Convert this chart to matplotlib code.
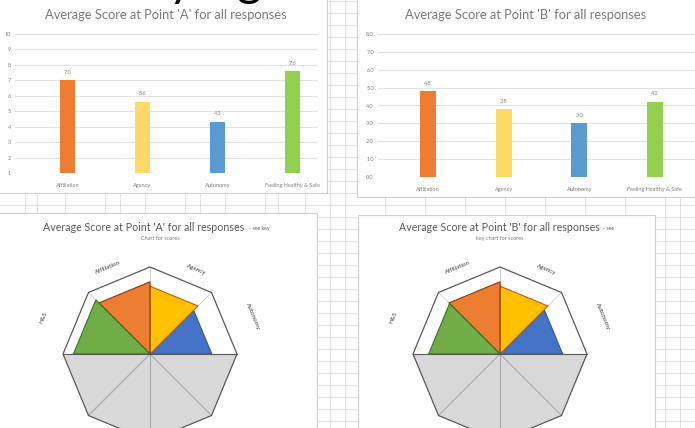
import matplotlib
matplotlib.use("Agg")
import matplotlib.pyplot as plt
import numpy as np
from matplotlib.patches import Polygon, Rectangle

plt.rcParams['font.family'] = ['Lato', 'DejaVu Sans']

# ---------------- data ----------------
categories = ["Affiliation", "Agency", "Autonomy", "Feeling Healthy & Safe"]
scores_a = [7.0, 5.6, 4.3, 7.6]
scores_b = [4.8, 3.8, 3.0, 4.2]
yticks_a = [1, 2, 3, 4, 5, 6, 7, 8, 9, 10]
yticks_b = [0, 1, 2, 3, 4, 5, 6, 7, 8]
ytick_labels_b = ["0.0", "1.0", "2.0", "3.0", "4.0", "5.0", "6.0", "7.0", "8.0"]
bar_colors = ["#ED7D31", "#FFD966", "#5B9BD5", "#92D050"]

radar_labels = ["Autonomy", "Agency", "Affiliation", "H&S"]
radar_a = [7.1, 7.8, 8.3, 8.8]
radar_b = [7.2, 7.8, 8.3, 8.2]
radar_max = 10
radar_colors = ["#4472C4", "#FFC000", "#ED7D31", "#70AD47"]
radar_edges = ["#2F5597", "#C55A11", "#843C0C", "#3B6E22"]

title_a = "Average Score at Point 'A' for all responses"
title_b = "Average Score at Point 'B' for all responses"
heading = "Survey Agreement Scores"

# ---------------- layout helpers ----------------
W, H = 695, 428
fig = plt.figure(figsize=(W / 100, H / 100), dpi=100)


def fr(x0, y0, x1, y1):
    return [x0 / W, 1 - y1 / H, (x1 - x0) / W, (y1 - y0) / H]


bg = fig.add_axes([0, 0, 1, 1])
bg.set_xlim(0, W)
bg.set_ylim(H, 0)
bg.axis('off')

# spreadsheet grid
for y in np.arange(1, H, 12):
    bg.plot([0, W], [y, y], color='#dedede', lw=0.6, zorder=1)
for x in [25, 37, 65, 105, 120, 145, 185, 200, 225, 265, 278, 305, 330, 345,
          385, 425, 465, 505, 545, 585, 625, 665, 680]:
    bg.plot([x, x], [0, H], color='#dedede', lw=0.6, zorder=1)

# chart boxes
for (x0, y0, w, h) in [(-2, -2, 329, 195), (357, -2, 345, 199),
                       (-2, 213, 319, 220), (358, 215, 297, 220)]:
    bg.add_patch(Rectangle((x0, y0), w, h, facecolor='white',
                           edgecolor='#d0d0d0', lw=0.8, zorder=2))

# big heading, cut off at the top (only descenders visible)
bg.text(50, -4, heading, fontsize=34, va='baseline', ha='left',
        color='black', zorder=3)

# titles
bg.text(166, 15, title_a, fontsize=9.3, color='#7a7a7a', ha='center',
        va='center', zorder=3)
bg.text(526, 15, title_b, fontsize=9.3, color='#7a7a7a', ha='center',
        va='center', zorder=3)

bg.text(144, 227, title_a, fontsize=7.7, color='#595959', ha='center',
        va='center', zorder=3)
bg.text(249, 228, "- see key", fontsize=3.8, color='#595959', ha='left',
        va='center', zorder=3)
bg.text(160, 238, "Chart for scores", fontsize=4, color='#7f7f7f',
        ha='center', va='center', zorder=3)

bg.text(499, 227, title_b, fontsize=7.7, color='#595959', ha='center',
        va='center', zorder=3)
bg.text(603, 228, "- see", fontsize=3.8, color='#595959', ha='left',
        va='center', zorder=3)
bg.text(500, 238, "key chart for scores", fontsize=4, color='#7f7f7f',
        ha='center', va='center', zorder=3)


# ---------------- bar charts ----------------
def bar_chart(rect, values, yticks, yticklabels, ylim, xlim):
    ax = fig.add_axes(rect, zorder=3)
    ax.patch.set_alpha(0)
    x = np.arange(len(values))
    ax.bar(x, values, width=0.21, color=bar_colors, zorder=3)
    ax.set_xlim(*xlim)
    ax.set_ylim(*ylim)
    ax.set_yticks(yticks)
    ax.set_yticklabels(yticklabels)
    ax.set_xticks(x)
    ax.set_xticklabels(categories)
    ax.grid(axis='y', color='#e2e2e2', lw=0.8)
    ax.set_axisbelow(True)
    for s in ax.spines.values():
        s.set_visible(False)
    ax.tick_params(axis='both', length=0, labelsize=4, colors='#808080')
    ax.tick_params(axis='x', pad=7)
    ax.tick_params(axis='y', pad=3)
    for xi, v in zip(x, values):
        ax.annotate(f"{v:.1f}", (xi, v), xytext=(0, 4),
                    textcoords='offset points', ha='center', va='bottom',
                    fontsize=4, color='#808080')
    return ax


bar_chart(fr(15, 34, 318, 173), scores_a, yticks_a,
          [str(t) for t in yticks_a], (1, 10), (-0.7, 3.34))
bar_chart(fr(378, 34, 695, 177), scores_b, yticks_b, ytick_labels_b,
          (0, 8), (-0.66, 3.53))


# ---------------- radar (octagon) charts ----------------
def radar(cx, cy, values, label_pos):
    scale = 8.7  # px per score unit
    x0, x1 = cx - 130, cx + 130
    y0, y1 = 250, 428
    ax = fig.add_axes(fr(x0, y0, x1, y1), zorder=3)
    ax.patch.set_alpha(0)
    ax.set_xlim(-130 / scale, 130 / scale)
    ax.set_ylim((cy - y1) / scale, (cy - y0) / scale)
    ax.axis('off')

    ang = np.deg2rad(np.arange(0, 360, 45))
    ox, oy = radar_max * np.cos(ang), radar_max * np.sin(ang)

    # lower (empty) half in grey
    lower = np.deg2rad(np.arange(180, 361, 45))
    pts = [(0, 0)] + [(radar_max * np.cos(a), radar_max * np.sin(a))
                      for a in lower]
    ax.add_patch(Polygon(pts, closed=True, facecolor='#d9d9d9',
                         edgecolor='none', zorder=1))
    for a in np.deg2rad([225, 270, 315]):
        ax.plot([0, radar_max * np.cos(a)], [0, radar_max * np.sin(a)],
                color='#a6a6a6', lw=0.8, zorder=2)
    for a in np.deg2rad([45, 90, 135]):
        ax.plot([0, radar_max * np.cos(a)], [0, radar_max * np.sin(a)],
                color='#c8c8c8', lw=0.6, zorder=2)

    # coloured sectors
    for i, v in enumerate(values):
        a1, a2 = np.deg2rad(45 * i), np.deg2rad(45 * (i + 1))
        tri = [(0, 0), (v * np.cos(a1), v * np.sin(a1)),
               (v * np.cos(a2), v * np.sin(a2))]
        ax.add_patch(Polygon(tri, closed=True, facecolor=radar_colors[i],
                             edgecolor=radar_edges[i], lw=0.8, zorder=3))

    ax.plot([-radar_max, radar_max], [0, 0], color='#595959', lw=0.8,
            zorder=4)
    ax.add_patch(Polygon(np.column_stack([ox, oy]), closed=True, fill=False,
                         edgecolor='#595959', lw=0.9, zorder=4))

    for lab, (a, r, rot) in zip(radar_labels, label_pos):
        t = np.deg2rad(a)
        ax.text(r * np.cos(t), r * np.sin(t), lab, rotation=rot,
                ha='center', va='center', fontsize=4.5, color='#404040',
                zorder=5)


label_layout = [(20, 12.6, -67.5), (61, 11.1, -22.5), (116, 11.1, 22.5),
                (161, 12.9, 67.5)]
radar(150, 354, radar_a, label_layout)
radar(500, 354, radar_b, label_layout)

fig.savefig("out.png", dpi=100)
